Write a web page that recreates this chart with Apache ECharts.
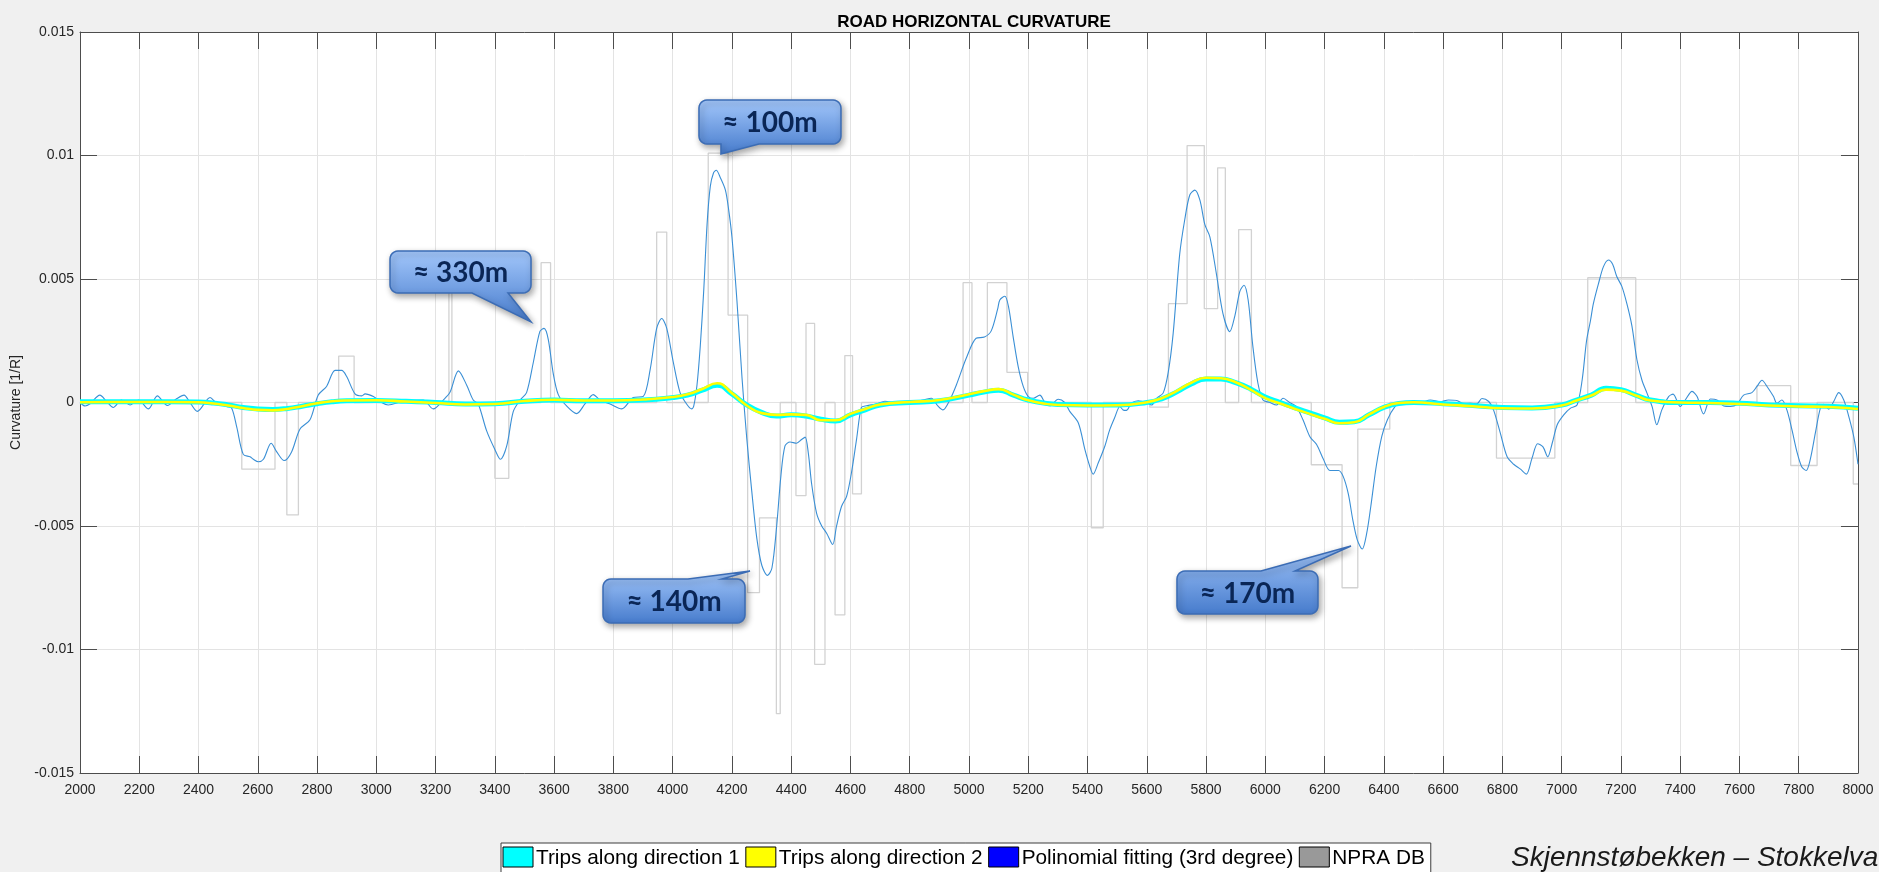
<!DOCTYPE html>
<html>
<head>
<meta charset="utf-8">
<title>Road horizontal curvature</title>
<script src="https://cdn.jsdelivr.net/npm/echarts@6/dist/echarts.min.js"></script>
<style>
  html, body { margin: 0; padding: 0; background: #f0f0f0; }
  #chart { width: 1879px; height: 872px; }
</style>
</head>
<body>
<div id="chart"></div>
<script>
// ---- Measured curvature along the road (chainage in m, curvature in 1/m) ----
const distance = [
  2000, 2017, 2034, 2067, 2090, 2112, 2140, 2169, 2197, 2231, 2261, 2295, 2326, 2351, 2371, 2396,
  2439, 2461, 2495, 2512, 2529, 2551, 2574, 2585, 2602, 2619, 2645, 2664, 2689, 2714, 2742, 2776,
  2804, 2832, 2861, 2883, 2900, 2928, 2951, 2962, 2990, 3018, 3040, 3091, 3158, 3192, 3226, 3248,
  3277, 3305, 3327, 3344, 3372, 3400, 3419, 3440, 3462, 3485, 3507, 3530, 3552, 3566, 3580, 3597,
  3614, 3642, 3676, 3704, 3732, 3755, 3789, 3828, 3867, 3901, 3924, 3946, 3963, 3980, 4002, 4025,
  4047, 4064, 4071, 4082, 4093, 4105, 4116, 4127, 4138, 4147, 4161, 4178, 4189, 4200, 4217, 4234,
  4250, 4267, 4284, 4301, 4320, 4335, 4351, 4365, 4379, 4396, 4418, 4435, 4447, 4458, 4469, 4486,
  4503, 4520, 4540, 4553, 4570, 4587, 4604, 4621, 4637, 4654, 4688, 4716, 4755, 4800, 4845, 4873,
  4895, 4912, 4935, 4957, 4991, 5024, 5052, 5075, 5097, 5104, 5121, 5133, 5149, 5166, 5183, 5200,
  5217, 5239, 5256, 5273, 5301, 5323, 5340, 5369, 5391, 5408, 5419, 5436, 5458, 5475, 5492, 5509,
  5520, 5531, 5548, 5571, 5599, 5616, 5633, 5655, 5672, 5689, 5711, 5728, 5745, 5762, 5779, 5796,
  5813, 5835, 5857, 5880, 5897, 5914, 5928, 5942, 5958, 5975, 5992, 6015, 6037, 6060, 6082, 6104,
  6127, 6151, 6173, 6196, 6218, 6247, 6263, 6280, 6295, 6310, 6327, 6342, 6356, 6374, 6393, 6412,
  6438, 6461, 6478, 6500, 6528, 6557, 6590, 6618, 6646, 6669, 6691, 6714, 6731, 6754, 6770, 6793,
  6816, 6838, 6861, 6881, 6900, 6919, 6937, 6953, 6968, 6985, 7007, 7030, 7052, 7069, 7084, 7097,
  7107, 7124, 7141, 7158, 7172, 7186, 7203, 7220, 7237, 7254, 7271, 7288, 7305, 7321, 7338, 7361,
  7376, 7400, 7417, 7440, 7457, 7479, 7502, 7524, 7547, 7569, 7592, 7614, 7642, 7659, 7676, 7693,
  7715, 7726, 7743, 7760, 7777, 7794, 7810, 7825, 7839, 7856, 7873, 7884, 7901, 7918, 7935, 7952,
  7969, 7986, 8000
];
const curvature = [
  0, -0.00014, -0.00005, 0.0003, 0.00004, -0.0002, 0.0001, -0.0001, 0.0001, -0.00026, 0.00027, -0.00012, 0.00015, 0.0003, 0.0, -0.00036,
  0.0002, -0.00003, -0.00016, -0.00023, -0.001, -0.0021, -0.0022, -0.0023, -0.0024, -0.0023, -0.00165, -0.002, -0.00235, -0.002, -0.00108, -0.0007,
  0.0003, 0.00065, 0.0013, 0.0013, 0.00105, 0.00035, 0.00027, 0.00035, 0.00024, 0.0, -0.0001, 0.00005, 0.0001, -0.00026, 0.0001, 0.0004,
  0.00128, 0.0007, 0.0001, -0.00006, -0.00114, -0.0019, -0.0023, -0.00176, -0.00037, 0.0001, 0.0004, 0.00164, 0.00288, 0.003, 0.00257, 0.00117,
  0.00032, -0.00014, -0.00045, -0.00006, 0.00032, 0.0001, -0.00006, -0.00026, 0.0002, 0.00025, 0.00133, 0.003, 0.0034, 0.003, 0.00164, 0.0004,
  -0.00006, -0.00026, -0.00015, 0.0007, 0.00226, 0.00457, 0.0072, 0.00875, 0.0093, 0.0094, 0.0091, 0.0086, 0.0078, 0.0067, 0.0041, 0.001,
  -0.00145, -0.0036, -0.0055, -0.0066, -0.007, -0.0067, -0.005, -0.003, -0.00176, -0.0016, -0.00165, -0.0015, -0.0014, -0.00207, -0.0033, -0.0045,
  -0.005, -0.0053, -0.00575, -0.005, -0.0042, -0.0038, -0.0028, -0.00145, -0.0002, -0.00013, -0.00006, 0.00005, -0.00003, 0.0, 0.0001, 0.00017,
  -0.00014, -0.0003, 0.0001, 0.0007, 0.0018, 0.0026, 0.00265, 0.0029, 0.0038, 0.00415, 0.0043, 0.0039, 0.00266, 0.00145, 0.00065, 0.00024,
  0.00017, 0.0003, 0.0, -0.00013, 0.00013, 0.0, -0.00036, -0.00083, -0.0019, -0.0026, -0.0029, -0.00245, -0.00178, -0.0011, -0.0006, -0.00016,
  -0.0003, -0.00032, -0.00003, 0.00007, 0.0, -0.0001, 0.00017, 0.00038, 0.0012, 0.0028, 0.006, 0.0074, 0.0084, 0.0086, 0.0082, 0.0072,
  0.0067, 0.0052, 0.0036, 0.00287, 0.0035, 0.0045, 0.00475, 0.00415, 0.00226, 0.00078, 0.0001, 0.0, -0.0001, 0.00017, 0.0, -0.00016,
  -0.0007, -0.0014, -0.0017, -0.0023, -0.00275, -0.00275, -0.003, -0.0037, -0.00474, -0.00555, -0.00593, -0.0053, -0.0042, -0.0026, -0.00137, -0.0007,
  -0.00016, 0.00004, 0.0, -0.00005, 0.0, 0.0001, 0.00003, 0.0001, 0.00008, -0.00005, -0.00003, -0.00005, 0.00016, 0.00004, -0.0003, -0.00124,
  -0.0022, -0.0025, -0.0027, -0.0029, -0.00225, -0.00167, -0.0018, -0.0022, -0.00165, -0.0009, -0.0005, -0.00023, -0.0001, 0.0009, 0.0025, 0.0033,
  0.004, 0.0048, 0.0055, 0.00577, 0.0056, 0.0051, 0.0047, 0.004, 0.0031, 0.00173, 0.0009, 0.00038, -0.00016, -0.0009, -0.0003, 0.00024,
  0.00034, -0.00016, 0.0001, 0.00045, 0.00024, -0.00046, 0.00014, 0.0001, -0.00014, -0.00016, -0.00007, 0.0003, 0.0004, 0.00065, 0.0009, 0.00065,
  0.00024, -0.00003, 0.0001, -0.0003, -0.0011, -0.002, -0.0026, -0.00275, -0.0023, -0.00124, -0.00023, -0.00007, -0.00027, 0.00004, 0.0004, 0.0001,
  -0.00057, -0.0014, -0.0025
];

// ---- Road database curvature: value holds from each start chainage to the next ----
const npraStart = [
  2000, 2546, 2658, 2698, 2737, 2873, 2925, 3245, 3255, 3400, 3447, 3556, 3588, 3946, 3980, 4120,
  4187, 4253, 4293, 4350, 4363, 4416, 4450, 4479, 4514, 4548, 4581, 4607, 4637, 4980, 5010, 5062,
  5128, 5198, 5413, 5453, 5610, 5673, 5736, 5794, 5839, 5865, 5910, 5953, 6155, 6259, 6312, 6420,
  6780, 6977, 7088, 7250, 7659, 7773, 7862, 7984, 8000
];
const npraValue = [
  0, -0.0027, 0, -0.00455, 0, 0.00188, 0, 0.0047, 0, -0.00307, 0, 0.00566, 0, 0.0069, 0, 0.0101,
  0.00354, -0.0077, -0.00467, -0.0126, 0, -0.00377, 0.0032, -0.0106, 0, -0.0086, 0.0019, -0.0037, 0, 0.00485, 0, 0.00485,
  0.00122, 0, -0.00507, 0, -0.00019, 0.004, 0.0104, 0.0038, 0.0095, 0, 0.007, 0, -0.00252, -0.0075, -0.00108, 0,
  -0.00225, 0, 0.00505, 0, 0.00068, -0.00255, 0, -0.0033, -0.0033
];

// ---- Trip curvature estimates for both driving directions ----
const tripStations = [
  2000, 2100, 2200, 2300, 2400, 2450, 2500, 2550, 2600, 2650, 2700, 2750, 2800, 2850, 2900, 3000,
  3100, 3200, 3300, 3400, 3500, 3600, 3700, 3800, 3900, 4000, 4050, 4100, 4150, 4200, 4250, 4300,
  4350, 4400, 4450, 4500, 4550, 4600, 4650, 4700, 4800, 4900, 5000, 5050, 5100, 5150, 5200, 5300,
  5400, 5500, 5600, 5650, 5700, 5750, 5800, 5850, 5900, 5950, 6000, 6050, 6100, 6150, 6200, 6250,
  6300, 6350, 6400, 6450, 6500, 6600, 6700, 6800, 6900, 7000, 7050, 7100, 7150, 7200, 7250, 7300,
  7400, 7500, 7600, 7700, 7800, 7900, 8000
];
const tripDir1 = [
  0.00003, 0.00003, 0.00003, 0.00003, 0.00002, -0.00002, -0.0001, -0.0002, -0.00026, -0.00028, -0.00024, -0.00015, -0.00005, 0.00003, 0.00007, 0.00008,
  0.00005, 0.0, -0.00006, -0.00005, 0.00005, 0.0001, 0.00007, 0.00007, 0.0001, 0.0002, 0.0003, 0.0005, 0.0007, 0.00035, -0.0001, -0.0004,
  -0.00055, -0.0005, -0.00055, -0.00068, -0.00075, -0.0005, -0.0003, -0.0001, 0.0, 0.00007, 0.0003, 0.00042, 0.0005, 0.0003, 0.0001, -0.00008,
  -0.0001, -0.0001, 0.0, 0.00015, 0.00042, 0.00075, 0.00095, 0.00095, 0.0008, 0.00055, 0.00022, 0.0, -0.00022, -0.00042, -0.00062, -0.0008,
  -0.00078, -0.0005, -0.0002, -0.00004, 0.0, -0.00005, -0.00012, -0.0002, -0.00022, -0.0001, 0.0001, 0.0003, 0.00058, 0.00052, 0.0003, 0.0001,
  0.0, 0.0, -0.00003, -0.0001, -0.00013, -0.00015, -0.00023
];
const tripDir2 = [
  0.00001, 0.00002, 0.00002, 0.00002, 0.00001, -0.00004, -0.00012, -0.00022, -0.0003, -0.00032, -0.00026, -0.00015, -0.00003, 0.00005, 0.00008, 0.00009,
  0.00004, -0.00002, -0.00008, -0.00006, 0.00006, 0.00011, 0.00008, 0.00008, 0.00012, 0.00022, 0.00033, 0.00055, 0.00078, 0.00038, -0.00012, -0.00043,
  -0.0005, -0.00048, -0.0005, -0.00072, -0.00072, -0.00046, -0.00026, -0.00008, 0.00002, 0.0001, 0.00033, 0.00046, 0.00054, 0.00032, 0.00009, -0.0001,
  -0.00012, -0.00011, 0.00001, 0.00017, 0.00046, 0.0008, 0.001, 0.00098, 0.00082, 0.00052, 0.00018, -0.00004, -0.00026, -0.00046, -0.00066, -0.00084,
  -0.0008, -0.00048, -0.00018, -0.00002, 0.00001, -0.00008, -0.00015, -0.00023, -0.00024, -0.00012, 0.00008, 0.00028, 0.00052, 0.00048, 0.00028, 0.00008,
  0.0, -0.00002, -0.00006, -0.00012, -0.00016, -0.00018, -0.00026
];

// ---- Legend entries ----
const legendNames = ['Trips along direction 1', 'Trips along direction 2', 'Polinomial fitting (3rd degree)', 'NPRA DB'];
const legendColors = ['#00ffff', '#ffff00', '#0000ff', '#999999'];

// ---- Callouts: radius label and the curve point the pointer targets ----
const calloutText = ['\u2248 330m', '\u2248 100m', '\u2248 140m', '\u2248 170m'];
const calloutTipX = [3522, 4163, 4261, 6289];
const calloutTipY = [0.00326, 0.01006, -0.00682, -0.00581];

const chartTitle = 'ROAD HORIZONTAL CURVATURE';
const yAxisTitle = 'Curvature [1/R]';
const sectionName = 'Skjennst\u00f8bekken \u2013 Stokkelva';

// Box geometry of each callout, in pixels relative to its pointer tip
const calloutLayout = [
  { dx: -141, dy: -71, w: 141, h: 42, side: 'bottom', b1: -59, b2: -23 },
  { dx: -22,  dy: -54, w: 142, h: 44, side: 'bottom', b1: 0,   b2: 38 },
  { dx: -147, dy: 8,   w: 142, h: 44, side: 'top',    b1: -62, b2: -28 },
  { dx: -174, dy: 25,  w: 141, h: 43, side: 'top',    b1: -90, b2: -56 }
];

const AXIS_COLOR = '#4d4d4d';
const GRID_COLOR = '#e3e3e3';
const LABEL_COLOR = '#262626';
const FONT = '"Liberation Sans", Arial, Helvetica, sans-serif';

const zip = (xs, ys) => xs.map((x, i) => [x, ys[i]]);

const chart = echarts.init(document.getElementById('chart'), null, { renderer: 'canvas' });

const baseX = {
  type: 'value', min: 2000, max: 8000, interval: 200,
  axisLine: { show: true, onZero: false, lineStyle: { color: AXIS_COLOR, width: 1 } },
  axisTick: { show: true, inside: true, length: 17, lineStyle: { color: AXIS_COLOR } }
};
const baseY = {
  type: 'value', min: -0.015, max: 0.015, interval: 0.005,
  axisLine: { show: true, onZero: false, lineStyle: { color: AXIS_COLOR, width: 1 } },
  axisTick: { show: true, inside: true, length: 17, lineStyle: { color: AXIS_COLOR } }
};

chart.setOption({
  animation: false,
  backgroundColor: '#f0f0f0',
  title: {
    text: chartTitle, left: 969, top: 9, textAlign: 'center',
    textStyle: { fontFamily: FONT, fontSize: 17, fontWeight: 'bold', color: '#000' }
  },
  grid: { left: 80, right: 21, top: 32, bottom: 99, show: true, backgroundColor: '#ffffff', borderWidth: 0 },
  xAxis: [
    Object.assign({}, baseX, {
      position: 'bottom',
      axisLabel: { color: LABEL_COLOR, fontSize: 14, fontFamily: FONT, margin: 10, formatter: v => String(v) },
      splitLine: { show: true, lineStyle: { color: GRID_COLOR, width: 1 } }
    }),
    Object.assign({}, baseX, {
      position: 'top',
      axisLabel: { show: false },
      splitLine: { show: false }
    })
  ],
  yAxis: [
    Object.assign({}, baseY, {
      position: 'left',
      name: yAxisTitle, nameLocation: 'middle', nameGap: 51,
      nameTextStyle: { color: LABEL_COLOR, fontSize: 14, fontFamily: FONT },
      axisLabel: {
        color: LABEL_COLOR, fontSize: 14, fontFamily: FONT, margin: 6,
        formatter: v => String(+v.toFixed(3))
      },
      splitLine: { show: true, lineStyle: { color: GRID_COLOR, width: 1 } }
    }),
    Object.assign({}, baseY, {
      position: 'right',
      axisLabel: { show: false },
      splitLine: { show: false }
    })
  ],
  series: [
    {
      name: legendNames[3], type: 'line', step: 'end', symbol: 'none',
      data: zip(npraStart, npraValue),
      lineStyle: { color: '#d2d2d2', width: 1.3 }, z: 1
    },
    {
      name: legendNames[2], type: 'line', symbol: 'none', data: [],
      lineStyle: { color: legendColors[2] }, z: 2
    },
    {
      name: 'Measured curvature', type: 'line', symbol: 'none', smooth: 0.3,
      data: zip(distance, curvature),
      lineStyle: { color: '#3a8fd5', width: 1.1 }, z: 3
    },
    {
      name: legendNames[0], type: 'line', symbol: 'none', smooth: 0.5,
      data: zip(tripStations, tripDir1),
      lineStyle: { color: legendColors[0], width: 5 }, z: 4
    },
    {
      name: legendNames[1], type: 'line', symbol: 'none', smooth: 0.5,
      data: zip(tripStations, tripDir2),
      lineStyle: { color: legendColors[1], width: 2.6 }, z: 5
    }
  ]
});

// ---- Overlay: legend strip, section name and callouts ----
const measure = (() => {
  const ctx = document.createElement('canvas').getContext('2d');
  return (text, font) => { ctx.font = font; return ctx.measureText(text).width; };
})();

const graphics = [];

// Legend strip along the bottom edge
const LEGEND_FONT = '20.8px ' + FONT;
const legendLeft = 501, legendTop = 843;
let cursor = legendLeft + 2;
const legendItems = [];
legendNames.forEach((name, i) => {
  legendItems.push({
    type: 'rect', shape: { x: cursor, y: legendTop + 4, width: 30, height: 20 },
    style: { fill: legendColors[i], stroke: '#000', lineWidth: 1 }
  });
  const tx = cursor + 33;
  legendItems.push({
    type: 'text',
    style: { text: name, x: tx, y: legendTop + 15, font: LEGEND_FONT, fill: '#000',
             align: 'left', verticalAlign: 'middle', textAlign: 'left', textVerticalAlign: 'middle' }
  });
  cursor = tx + measure(name, LEGEND_FONT) + 6;
});
graphics.push({
  type: 'rect', shape: { x: legendLeft, y: legendTop, width: cursor - legendLeft, height: 40 },
  style: { fill: '#ffffff', stroke: '#3c3c3c', lineWidth: 1 }, z: 10
});
legendItems.forEach(el => { el.z = 11; graphics.push(el); });

// Section name at the lower right corner
graphics.push({
  type: 'text', z: 10,
  style: { text: sectionName, x: 1511, y: 858, font: 'italic 28px ' + FONT, fill: '#1a1a1a',
           align: 'left', verticalAlign: 'middle', textAlign: 'left', textVerticalAlign: 'middle' }
});

// Outline of a rounded box with a pointer on its top or bottom edge
function calloutPoints(x0, y0, w, h, r, side, b1, b2, tx, ty) {
  const x1 = x0 + w, y1 = y0 + h, pts = [];
  const arc = (cx, cy, a0, a1) => {
    for (let k = 0; k <= 6; k++) {
      const a = a0 + (a1 - a0) * k / 6;
      pts.push([cx + r * Math.cos(a), cy + r * Math.sin(a)]);
    }
  };
  arc(x0 + r, y0 + r, Math.PI, 1.5 * Math.PI);
  if (side === 'top') pts.push([b1, y0], [tx, ty], [b2, y0]);
  arc(x1 - r, y0 + r, 1.5 * Math.PI, 2 * Math.PI);
  arc(x1 - r, y1 - r, 0, 0.5 * Math.PI);
  if (side === 'bottom') pts.push([b2, y1], [tx, ty], [b1, y1]);
  arc(x0 + r, y1 - r, 0.5 * Math.PI, Math.PI);
  return pts;
}

calloutText.forEach((label, i) => {
  const [tx, ty] = chart.convertToPixel({ xAxisIndex: 0, yAxisIndex: 0 }, [calloutTipX[i], calloutTipY[i]]);
  const L = calloutLayout[i];
  const x0 = tx + L.dx, y0 = ty + L.dy;
  graphics.push({
    type: 'polygon', z: 20,
    shape: { points: calloutPoints(x0, y0, L.w, L.h, 8, L.side, tx + L.b1, tx + L.b2, tx, ty) },
    style: {
      fill: {
        type: 'linear', x: 0, y: 0, x2: 0, y2: 1,
        colorStops: [{ offset: 0, color: '#a3c7fb' }, { offset: 1, color: '#467bcc' }]
      },
      stroke: '#3b6cb5', lineWidth: 1.5,
      shadowBlur: 6, shadowOffsetX: 2, shadowOffsetY: 3, shadowColor: 'rgba(0,0,0,0.35)'
    }
  });
  graphics.push({
    type: 'text', z: 21,
    style: { text: label, x: x0 + L.w / 2, y: y0 + L.h / 2 + 1, font: 'bold 28px Lato, "Open Sans", sans-serif',
             fill: '#0a2656', align: 'center', verticalAlign: 'middle', textAlign: 'center', textVerticalAlign: 'middle' }
  });
});

chart.setOption({ graphic: { elements: graphics } });
</script>
</body>
</html>
